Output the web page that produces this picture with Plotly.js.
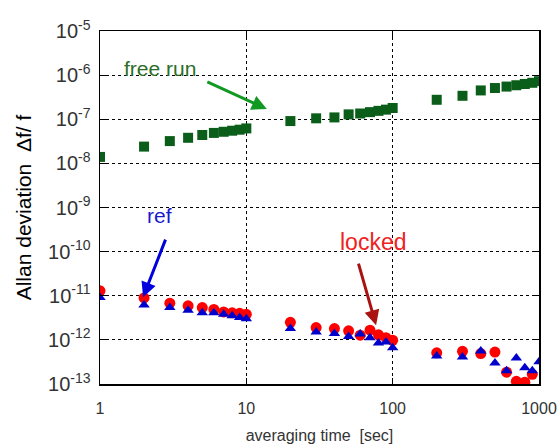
<!DOCTYPE html>
<html><head><meta charset="utf-8">
<script src="https://cdn.plot.ly/plotly-3.0.1.min.js"></script>
<style>body{margin:0;background:#fff}#c{width:559px;height:444px}</style>
</head><body><div id="c"></div>
<script>
const tauFree = [1,2,3,4,5,6,7,8,9,10,20,30,40,50,60,70,80,90,100,200,300,400,500,600,700,800,900,1000];
const freeRun = [1.4e-8,2.4e-8,3.2e-8,3.8e-8,4.4e-8,4.9e-8,5.2e-8,5.5e-8,5.8e-8,6.2e-8,9.1e-8,1.05e-7,1.1e-7,1.29e-7,1.35e-7,1.45e-7,1.55e-7,1.65e-7,1.8e-7,2.76e-7,3.4e-7,4.5e-7,5.1e-7,5.5e-7,5.9e-7,6.3e-7,6.7e-7,7.3e-7];
const tauLocked = [1,2,3,4,5,6,7,8,9,10,20,30,40,50,60,70,80,90,100,200,300,400,500,600,700,800,900];
const locked = [1.29e-11,8.9e-12,6.8e-12,5.9e-12,5.4e-12,4.9e-12,4.3e-12,4.1e-12,4.0e-12,3.8e-12,2.5e-12,1.9e-12,1.8e-12,1.6e-12,1.28e-12,1.66e-12,1.3e-12,1.12e-12,9.8e-13,5.1e-13,5.5e-13,4.9e-13,5.3e-13,1.85e-13,1.15e-13,1.1e-13,1.66e-13];
const tauRef = [1,2,3,4,5,6,7,8,9,10,20,30,40,50,60,70,80,90,100,200,300,400,500,600,700,800,900,1000];
const ref = [9.1e-12,6.2e-12,5.4e-12,4.7e-12,4.1e-12,4.1e-12,3.8e-12,3.5e-12,3.2e-12,3.0e-12,1.8e-12,1.5e-12,1.4e-12,1.2e-12,1.35e-12,1.12e-12,8.5e-13,8.9e-13,6.6e-13,4.3e-13,4.1e-13,5.6e-13,3.0e-13,2.0e-13,3.9e-13,2.35e-13,2.0e-13,3.2e-13];
const xTicks = [1,10,100,1000];
const xTickText = ['1','10','100','1000'];
const yTicks = [1e-13,1e-12,1e-11,1e-10,1e-9,1e-8,1e-7,1e-6,1e-5];
const yTickText = ['10<sup>-13</sup>','10<sup>-12</sup>','10<sup>-11</sup>','10<sup>-10</sup>','10<sup>-9</sup>','10<sup>-8</sup>','10<sup>-7</sup>','10<sup>-6</sup>','10<sup>-5</sup>'];

const FONT = 'Liberation Sans, Arial, sans-serif';
const traces = [
  {x: tauFree, y: freeRun, mode: 'markers', type: 'scatter', name: 'free run',
   marker: {symbol: 'square', size: 10, color: '#0b5e1a'}},
  {x: tauLocked, y: locked, mode: 'markers', type: 'scatter', name: 'locked',
   marker: {symbol: 'circle', size: 11, color: '#ff0000'}},
  {x: tauRef, y: ref, mode: 'markers', type: 'scatter', name: 'ref',
   marker: {symbol: 'triangle-up', size: 10, color: '#0000cc'}}
];
const axBase = {
  showline: true, linecolor: '#000', linewidth: 1.5, mirror: 'ticks',
  ticks: 'inside', ticklen: 6, tickcolor: '#000',
  showgrid: true, gridcolor: '#000', griddash: 'dot', gridwidth: 1,
  zeroline: false
};
const layout = {
  width: 559, height: 444,
  margin: {l: 100, r: 20, t: 31, b: 60},
  paper_bgcolor: '#fff', plot_bgcolor: '#fff',
  showlegend: false,
  font: {family: FONT, color: '#222'},
  xaxis: Object.assign({}, axBase, {
    type: 'log', range: [0, 3], tickvals: xTicks, ticktext: xTickText,
    tickfont: {size: 16, color: '#333'}, ticklabelstandoff: 9,
    title: {text: 'averaging time&nbsp;&nbsp;[sec]', font: {size: 16, color: '#333'}, standoff: 18}
  }),
  yaxis: Object.assign({}, axBase, {
    type: 'log', range: [-13, -5], tickvals: yTicks, ticktext: yTickText,
    tickfont: {size: 20, color: '#333'}, ticklabelstandoff: 4,
    title: {text: 'Allan deviation&nbsp;&nbsp;Δf/ f', font: {size: 21, color: '#000'}, standoff: 10}
  }),
  annotations: [
    {x: Math.log10(2.57), y: Math.log10(1.45e-6), xref: 'x', yref: 'y', text: 'free run', showarrow: false,
     font: {size: 21, color: '#2a6e2a', family: FONT}},
    {x: Math.log10(2.57), y: Math.log10(6.7e-10), xref: 'x', yref: 'y', text: 'ref', showarrow: false,
     font: {size: 21, color: '#1a1acc', family: FONT}},
    {x: Math.log10(73.5), y: Math.log10(1.64e-10), xref: 'x', yref: 'y', text: 'locked', showarrow: false,
     font: {size: 23, color: '#ee2222', family: FONT}},
    {x: Math.log10(13.8), y: Math.log10(1.7e-7), xref: 'x', yref: 'y', text: '', showarrow: true,
     ax: -61, ay: -28, arrowhead: 2, arrowsize: 1, arrowwidth: 3, arrowcolor: '#119922'},
    {x: Math.log10(1.97), y: Math.log10(9.3e-12), xref: 'x', yref: 'y', text: '', showarrow: true,
     ax: 23, ay: -59, arrowhead: 2, arrowsize: 1, arrowwidth: 3, arrowcolor: '#0000dd'},
    {x: Math.log10(77), y: Math.log10(2.15e-12), xref: 'x', yref: 'y', text: '', showarrow: true,
     ax: -18, ay: -63, arrowhead: 2, arrowsize: 1, arrowwidth: 3, arrowcolor: '#aa1111'}
  ]
};
Plotly.newPlot('c', traces, layout, {displayModeBar: false, staticPlot: true});
</script></body></html>
